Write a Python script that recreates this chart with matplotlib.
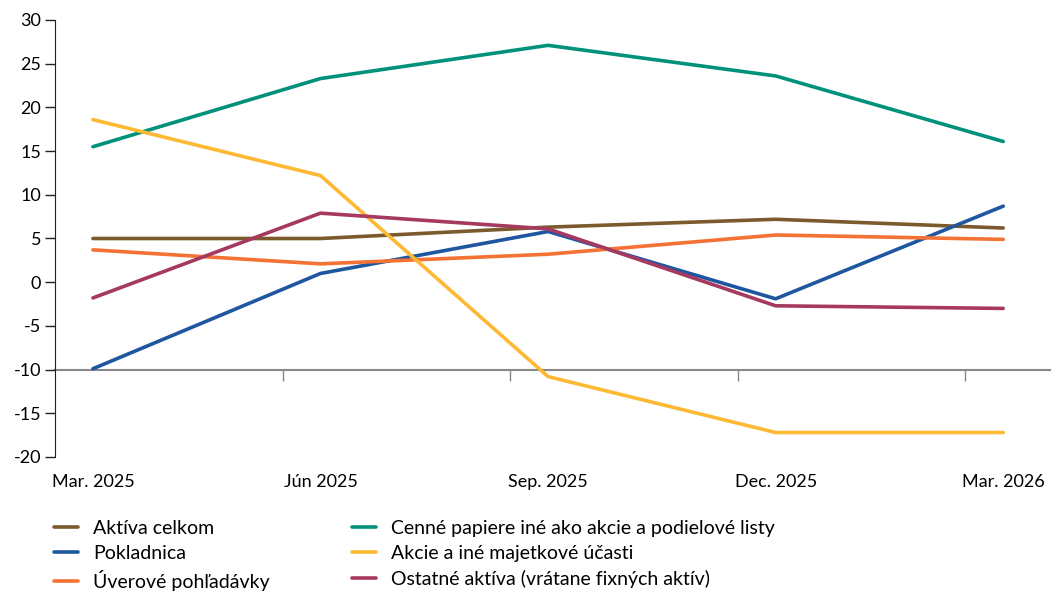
import matplotlib.pyplot as plt

plt.rcParams['font.family'] = ['Lato', 'DejaVu Sans']
plt.rcParams['axes.unicode_minus'] = False

quarters = ["Mar. 2025", "Jún 2025", "Sep. 2025", "Dec. 2025", "Mar. 2026"]

aktiva = [5.0, 5.0, 6.3, 7.2, 6.2]
pokladnica = [-9.9, 1.0, 5.8, -1.9, 8.7]
uverove = [3.7, 2.1, 3.2, 5.4, 4.9]
cenne = [15.5, 23.3, 27.1, 23.6, 16.1]
akcie = [18.6, 12.2, -10.8, -17.2, -17.2]
ostatne = [-1.8, 7.9, 6.1, -2.7, -3.0]

series = [
    ("Aktíva celkom", aktiva, "#7B5A2D"),
    ("Pokladnica", pokladnica, "#1F56A0"),
    ("Úverové pohľadávky", uverove, "#F37234"),
    ("Cenné papiere iné ako akcie a podielové listy", cenne, "#00917A"),
    ("Akcie a iné majetkové účasti", akcie, "#FDB933"),
    ("Ostatné aktíva (vrátane fixných aktív)", ostatne, "#A5395F"),
]

fig = plt.figure(figsize=(10.51, 5.92), dpi=100)
ax = fig.add_axes([55 / 1051, 1 - 457 / 592, 1 - 55 / 1051, (457 - 20) / 592])

x = list(range(len(quarters)))
for name, vals, col in series:
    ax.plot(x, vals, color=col, lw=2.6, label=name, solid_capstyle='round')

ax.set_xlim(-1 / 6, 4.21)
ax.set_ylim(-20, 30)
ax.set_yticks(range(-20, 31, 5))
ax.tick_params(axis='y', length=7, width=1, labelsize=13, pad=3, color='#222222')
ax.set_xticks(x)
ax.set_xticklabels(quarters)
ax.tick_params(axis='x', length=0, labelsize=13, pad=12)

for s in ['top', 'right', 'bottom']:
    ax.spines[s].set_visible(False)
ax.spines['left'].set_color('#222222')

# the category axis line sits at -10
sec = ax.secondary_xaxis(0.2)
sec.set_xticks([k - 1 / 6 for k in range(1, 5)])
sec.set_xticklabels([])
sec.tick_params(axis='x', length=8, width=1, color='#888888')
sec.spines['bottom'].set_color('#888888')
sec.spines['bottom'].set_linewidth(1.5)

fig.legend(loc='upper left', bbox_to_anchor=(54 / 1051, 1 - 520 / 592), ncol=2,
           frameon=False, fontsize=14, handlelength=1.25, handletextpad=0.75,
           columnspacing=4.25, labelspacing=0.4, borderpad=0, borderaxespad=0)

fig.savefig("out.png", dpi=100)
